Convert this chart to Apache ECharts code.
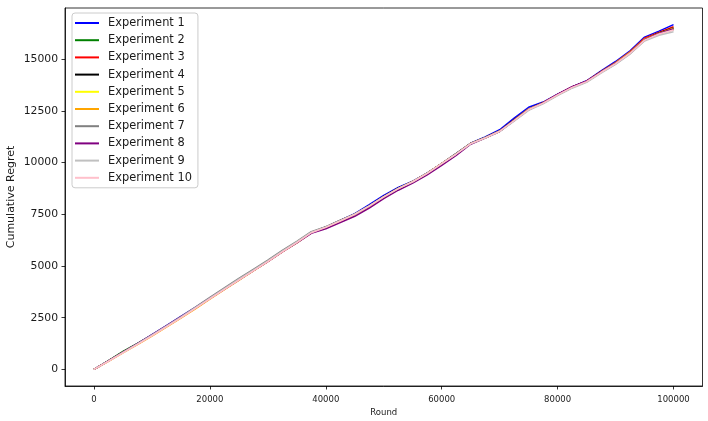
<!DOCTYPE html>
<html>
<head>
<meta charset="utf-8">
<script src="https://cdn.jsdelivr.net/npm/echarts@6/dist/echarts.min.js"></script>
<style>html,body{margin:0;padding:0;background:#fff;}#c{width:708px;height:421px;}</style>
</head>
<body>
<div id="c"></div>
<script>
const rounds = [0,2500,5000,7500,10000,12500,15000,17500,20000,22500,25000,27500,30000,32500,35000,37500,40000,42500,45000,47500,50000,52500,55000,57500,60000,62500,65000,67500,70000,72500,75000,77500,80000,82500,85000,87500,90000,92500,95000,97500,100000];
const exp1 = [0,415,840,1250,1680,2120,2560,3000,3440,3890,4330,4770,5220,5690,6130,6610,6880,7200,7530,7960,8410,8790,9100,9490,9950,10420,10930,11230,11580,12140,12670,12920,13300,13650,13950,14430,14880,15400,16060,16350,16660];
const exp2 = [0,430,870,1260,1660,2080,2510,2960,3420,3880,4330,4770,5220,5690,6130,6610,6870,7180,7490,7890,8340,8740,9070,9470,9940,10410,10910,11190,11510,12030,12560,12870,13270,13630,13910,14360,14780,15280,15920,16220,16480];
const exp3 = [0,405,825,1225,1645,2075,2515,2965,3425,3885,4335,4775,5225,5695,6135,6615,6875,7185,7495,7895,8345,8745,9075,9475,9945,10415,10915,11195,11520,12060,12580,12890,13290,13650,13930,14390,14830,15350,16000,16280,16560];
const exp4 = [0,410,830,1235,1650,2085,2520,2975,3430,3895,4340,4785,5230,5705,6140,6625,6880,7195,7500,7905,8350,8755,9080,9485,9950,10425,10920,11205,11520,12055,12580,12885,13280,13645,13920,14385,14800,15305,15950,16255,16500];
const exp5 = [0,400,820,1220,1640,2070,2510,2960,3420,3880,4330,4770,5220,5690,6130,6610,6870,7180,7490,7890,8340,8740,9070,9470,9940,10410,10910,11190,11510,12040,12570,12870,13270,13630,13910,14370,14790,15290,15940,16240,16490];
const exp6 = [0,390,800,1200,1610,2040,2480,2930,3400,3860,4310,4760,5210,5680,6120,6600,6860,7170,7490,7890,8340,8740,9070,9470,9940,10410,10910,11190,11510,12040,12580,12880,13270,13630,13920,14380,14810,15330,15960,16240,16440];
const exp7 = [0,410,835,1240,1665,2100,2550,3010,3480,3940,4400,4840,5280,5750,6190,6660,6900,7210,7510,7900,8340,8750,9090,9490,9960,10440,10930,11210,11520,12030,12560,12870,13260,13620,13900,14350,14760,15260,15900,16210,16410];
const exp8 = [0,410,835,1250,1675,2110,2540,2975,3430,3885,4330,4770,5210,5680,6120,6580,6800,7100,7400,7800,8250,8660,9000,9400,9860,10340,10880,11180,11500,12020,12550,12880,13290,13660,13930,14380,14790,15290,15930,16240,16470];
const exp9 = [0,405,825,1230,1660,2090,2530,2990,3450,3910,4360,4800,5250,5720,6160,6630,6880,7190,7500,7900,8340,8740,9070,9470,9940,10410,10900,11180,11490,12000,12520,12830,13230,13590,13870,14320,14740,15240,15870,16150,16320];
const exp10 = [0,395,805,1210,1625,2055,2495,2950,3410,3870,4320,4765,5215,5685,6125,6605,6865,7175,7490,7890,8340,8740,9070,9470,9940,10410,10910,11190,11510,12030,12560,12870,13270,13630,13910,14360,14780,15280,15910,16210,16400];
const seriesNames = ['Experiment 1','Experiment 2','Experiment 3','Experiment 4','Experiment 5','Experiment 6','Experiment 7','Experiment 8','Experiment 9','Experiment 10'];
const seriesColors = ['#0000ff','#008000','#ff0000','#000000','#ffff00','#ffa500','#808080','#800080','#c0c0c0','#ffc0cb'];
const xTicks = [0,20000,40000,60000,80000,100000];
const yTicks = [0,2500,5000,7500,10000,12500,15000];

const allValues = [exp1,exp2,exp3,exp4,exp5,exp6,exp7,exp8,exp9,exp10];
const FONT = 'DejaVu Sans';
const chart = echarts.init(document.getElementById('c'), null, {renderer:'canvas'});
const series = allValues.map((vals, i) => ({
  name: seriesNames[i],
  type: 'line',
  data: rounds.map((r, j) => [r, vals[j]]),
  showSymbol: false,
  symbol: 'none',
  lineStyle: {color: seriesColors[i], width: 1.5},
  itemStyle: {color: seriesColors[i]},
  z: 2 + i,
  animation: false
}));
chart.setOption({
  animation: false,
  backgroundColor: '#fff',
  textStyle: {fontFamily: FONT},
  grid: {left: 65, right: 5.5, top: 8, bottom: 35, outerBoundsMode: 'none', containLabel: false, show: true, borderColor: '#000', borderWidth: 0.8, backgroundColor: 'transparent'},
  legend: {
    orient: 'vertical', left: 72, top: 13,
    padding: [4, 6, 4, 3],
    itemWidth: 24, itemHeight: 2, itemGap: 5.2,
    icon: 'rect',
    borderColor: '#cccccc', borderWidth: 1, borderRadius: 3,
    backgroundColor: 'rgba(255,255,255,0.8)',
    textStyle: {fontFamily: FONT, fontSize: 11.4, color: '#1a1a1a', lineHeight: 12, padding: [0,0,0,4]},
    data: seriesNames
  },
  xAxis: {
    type: 'value', min: -5000, max: 105000,
    name: 'Round', nameLocation: 'middle', nameGap: 22, nameMoveOverlap: false,
    nameTextStyle: {fontFamily: FONT, fontSize: 8.5, color: '#1a1a1a'},
    splitLine: {show: false},
    axisLine: {show: true, onZero: false, lineStyle: {color: '#000', width: 0.8}},
    axisTick: {show: true, length: 3.5, lineStyle: {color: '#000', width: 0.8}, customValues: xTicks},
    axisLabel: {fontFamily: FONT, fontSize: 8.5, color: '#1a1a1a', margin: 9, customValues: xTicks, formatter: v => String(v)}
  },
  yAxis: {
    type: 'value', min: -800, max: 17465,
    name: 'Cumulative Regret', nameLocation: 'middle', nameGap: 48, nameRotate: 90, nameMoveOverlap: false,
    nameTextStyle: {fontFamily: FONT, fontSize: 11, color: '#1a1a1a'},
    splitLine: {show: false},
    axisLine: {show: true, onZero: false, lineStyle: {color: '#000', width: 0.8}},
    axisTick: {show: true, length: 3.5, lineStyle: {color: '#000', width: 0.8}, customValues: yTicks},
    axisLabel: {fontFamily: FONT, fontSize: 10.8, color: '#1a1a1a', margin: 7, customValues: yTicks, formatter: v => String(v)}
  },
  series: series
});
</script>
</body>
</html>
